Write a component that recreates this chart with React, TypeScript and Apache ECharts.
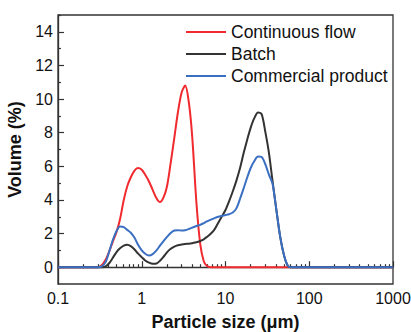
import React, { useEffect, useRef } from "react";
import * as echarts from "echarts";

const sizes = [0.1, 0.2, 0.3, 0.33, 0.37, 0.41, 0.45, 0.5, 0.55, 0.61, 0.67, 0.74, 0.82, 0.9, 1.0, 1.1, 1.22, 1.35, 1.5, 1.65, 1.82, 2.0, 2.2, 2.45, 2.7, 3.0, 3.3, 3.65, 4.0, 4.5, 5.0, 5.5, 6.0, 6.7, 7.4, 8.2, 9.0, 10, 11, 12.2, 13.5, 15, 16.5, 18.2, 20, 22, 24.5, 27, 30, 33, 36.5, 40, 45, 50, 55, 60, 67, 100, 1000];

const continuousFlow = [0, 0, 0, 0.1, 0.45, 0.95, 1.5, 2.1, 2.85, 4.0, 4.8, 5.35, 5.75, 5.9, 5.8, 5.5, 5.1, 4.6, 4.1, 3.87, 4.15, 4.8, 6.1, 7.7, 9.2, 10.4, 10.8, 9.8, 7.8, 3.8, 1.35, 0.35, 0.07, 0, 0, 0, 0, 0, 0, 0, 0, 0, 0, 0, 0, 0, 0, 0, 0, 0, 0, 0, 0, 0, 0, 0, 0, 0, 0];

const batch = [0, 0, 0, 0, 0.05, 0.25, 0.55, 0.9, 1.12, 1.28, 1.33, 1.25, 1.05, 0.82, 0.6, 0.4, 0.27, 0.2, 0.22, 0.38, 0.62, 0.88, 1.08, 1.22, 1.3, 1.35, 1.38, 1.4, 1.43, 1.48, 1.56, 1.66, 1.8, 2.0, 2.25, 2.65, 3.0, 3.4, 3.9, 4.5, 5.15, 5.95, 6.8, 7.6, 8.3, 8.85, 9.2, 9.1, 8.0, 6.8, 5.1, 3.6, 1.8, 0.7, 0.12, 0, 0, 0, 0];

const commercial = [0, 0, 0, 0.03, 0.3, 0.95, 1.6, 2.15, 2.42, 2.38, 2.22, 2.05, 1.75, 1.35, 1.0, 0.8, 0.7, 0.78, 1.0, 1.28, 1.55, 1.8, 2.02, 2.18, 2.2, 2.18, 2.2, 2.27, 2.35, 2.45, 2.52, 2.62, 2.72, 2.83, 2.92, 3.0, 3.05, 3.1, 3.15, 3.25, 3.5, 4.1, 4.7, 5.35, 5.9, 6.3, 6.58, 6.55, 6.1, 5.5, 4.95, 3.6, 1.8, 0.7, 0.12, 0, 0, 0, 0];

const yTickLabels = [0, 2, 4, 6, 8, 10, 12, 14];
const yMinorTicks = [1, 3, 5, 7, 9, 11, 13, 15];
const xTickLabels = [0.1, 1, 10, 100, 1000];
const xMinorTicks = [0.2, 0.3, 0.4, 0.5, 0.6, 0.7, 0.8, 0.9, 2, 3, 4, 5, 6, 7, 8, 9, 20, 30, 40, 50, 60, 70, 80, 90, 200, 300, 400, 500, 600, 700, 800, 900];

const seriesNames = ["Continuous flow", "Batch", "Commercial product"];
const seriesColors = ["#f02a2e", "#333333", "#3a6fc2"];

const FONT = "'Liberation Sans', Arial, sans-serif";

export default function App() {
  const ref = useRef<HTMLDivElement>(null);
  useEffect(() => {
    document.body.style.margin = "0";
    const chart = echarts.init(ref.current!, null, { renderer: "svg" });
    const data = [continuousFlow, batch, commercial];
    const axisLineStyle = { color: "#333", width: 1.3 };
    chart.setOption({
      animation: false,
      grid: {
        left: 58,
        right: 18,
        top: 15,
        height: 269,
        containLabel: false,
        outerBoundsMode: "none",
        show: true,
        borderColor: "#333",
        borderWidth: 1.3,
      },
      legend: {
        orient: "vertical",
        left: 186,
        top: 23,
        padding: 0,
        itemWidth: 40,
        itemHeight: 17,
        itemGap: 4,
        icon: "path://M0,0 H40 V2 H0 Z",
        textStyle: { fontFamily: FONT, fontSize: 17.5, color: "#111", lineHeight: 17 },
        data: seriesNames,
      },
      xAxis: [
        {
          type: "log",
          logBase: 10,
          min: 0.1,
          max: 1000,
          position: "bottom",
          name: "Particle size (μm)",
          nameLocation: "middle",
          nameGap: 29,
          nameTextStyle: { fontFamily: FONT, fontSize: 18, fontWeight: "bold", color: "#111" },
          axisLine: { show: true, lineStyle: axisLineStyle },
          axisTick: { show: true, inside: true, length: 6, customValues: xTickLabels, lineStyle: { color: "#333", width: 1.2 } },
          axisLabel: {
            customValues: xTickLabels,
            margin: 6,
            fontFamily: FONT,
            fontSize: 16,
            color: "#111",
            formatter: (v: number) => String(v),
          },
          splitLine: { show: false },
          minorTick: { show: false },
        },
        {
          type: "log",
          logBase: 10,
          min: 0.1,
          max: 1000,
          position: "bottom",
          axisLine: { show: false },
          axisTick: { show: true, inside: true, length: 3, customValues: xMinorTicks, lineStyle: { color: "#333", width: 1.2 } },
          axisLabel: { show: false },
          splitLine: { show: false },
        },
      ],
      yAxis: [
        {
          type: "value",
          min: -1,
          max: 15,
          interval: 1,
          name: "Volume (%)",
          nameLocation: "middle",
          nameGap: 23,
          nameTextStyle: { fontFamily: FONT, fontSize: 18, fontWeight: "bold", color: "#111" },
          axisLine: { show: true, lineStyle: axisLineStyle },
          axisTick: { show: true, inside: true, length: 6, customValues: yTickLabels, lineStyle: { color: "#333", width: 1.2 } },
          axisLabel: {
            customValues: yTickLabels,
            margin: 5,
            fontFamily: FONT,
            fontSize: 16,
            color: "#111",
          },
          splitLine: { show: false },
        },
        {
          type: "value",
          min: -1,
          max: 15,
          interval: 1,
          position: "left",
          axisLine: { show: false },
          axisTick: { show: true, inside: true, length: 3, customValues: yMinorTicks, lineStyle: { color: "#333", width: 1.2 } },
          axisLabel: { show: false },
          splitLine: { show: false },
        },
      ],
      series: seriesNames.map((name, i) => ({
        name,
        type: "line",
        xAxisIndex: 0,
        yAxisIndex: 0,
        symbol: "none",
        smooth: 0.3,
        color: seriesColors[i],
        lineStyle: { color: seriesColors[i], width: 2 },
        data: sizes.map((s, j) => [s, data[i][j]]),
      })),
    });
    return () => chart.dispose();
  }, []);
  return <div ref={ref} style={{ position: "absolute", left: 0, top: 0, width: 411, height: 332 }} />;
}
